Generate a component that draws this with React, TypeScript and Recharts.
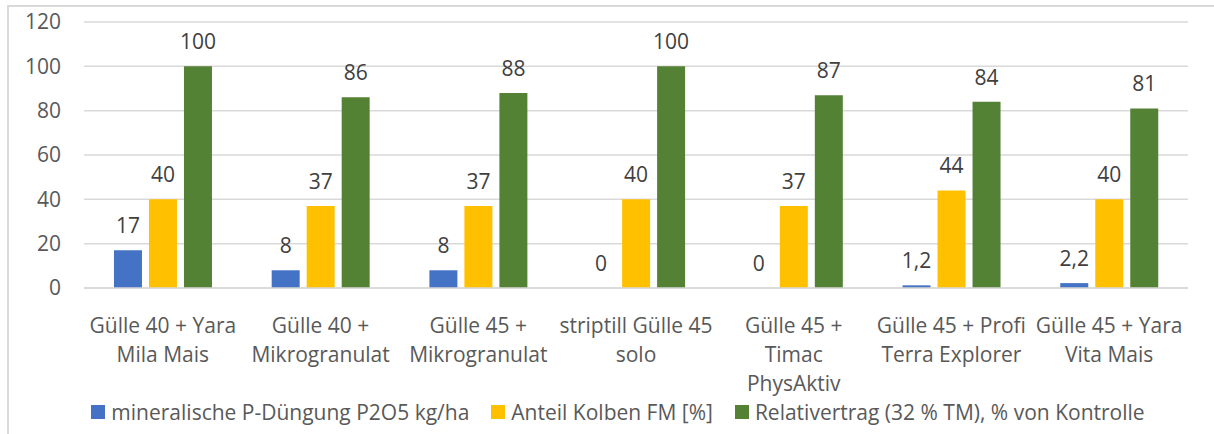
import React from "react";
import { BarChart, Bar, XAxis, YAxis, CartesianGrid, Legend, LabelList } from "recharts";

const categories = [
  "Gülle 40 + Yara Mila Mais",
  "Gülle 40 + Mikrogranulat",
  "Gülle 45 + Mikrogranulat",
  "striptill Gülle 45 solo",
  "Gülle 45 + Timac PhysAktiv",
  "Gülle 45 + Profi Terra Explorer",
  "Gülle 45 + Yara Vita Mais",
];
const categoryLines = [
  ["Gülle 40 + Yara", "Mila Mais"],
  ["Gülle 40 +", "Mikrogranulat"],
  ["Gülle 45 +", "Mikrogranulat"],
  ["striptill Gülle 45", "solo"],
  ["Gülle 45 +", "Timac", "PhysAktiv"],
  ["Gülle 45 + Profi", "Terra Explorer"],
  ["Gülle 45 + Yara", "Vita Mais"],
];
const pDuengung = [17, 8, 8, 0, 0, 1.2, 2.2];
const anteilKolben = [40, 37, 37, 40, 37, 44, 40];
const relativertrag = [100, 86, 88, 100, 87, 84, 81];
const seriesNames = [
  "mineralische P-Düngung P2O5 kg/ha",
  "Anteil Kolben FM [%]",
  "Relativertrag (32 % TM), % von Kontrolle",
];
const yTicks = [0, 20, 40, 60, 80, 100, 120];

const colors = ["#4472C4", "#FFC000", "#548235"];
const FONT = "'Open Sans', sans-serif";
const FS = 21;
const BAR_GAP = 7;

const data = categories.map((c, i) => ({
  name: c,
  idx: i,
  p: pDuengung[i],
  k: anteilKolben[i],
  r: relativertrag[i],
}));

const fmt = (v: any) => String(v).replace(".", ",");

const XTick = (props: any) => {
  const { x, y, payload } = props;
  const lines = categoryLines[payload.index] || [String(payload.value)];
  return (
    <text x={x} y={y} textAnchor="middle" fill="#595959" fontSize={FS} fontFamily={FONT}>
      {lines.map((l: string, i: number) => (
        <tspan key={i} x={x} y={y + 37 + i * 29}>
          {l}
        </tspan>
      ))}
    </text>
  );
};

const labelText = (cx: number, y: number, v: any, key?: string) => (
  <text key={key} x={cx} y={y - 17} textAnchor="middle" fill="#404040" fontSize={FS} fontFamily={FONT}>
    {fmt(v)}
  </text>
);

const BarLabel = (props: any) => {
  const { x, y, width, value } = props;
  if (value === undefined || value === null) return null;
  return labelText(Number(x) + Number(width) / 2, Number(y), value);
};

// Yellow-series label; also places the "0" label of a zero-height blue bar
// (Recharts does not emit zero-height bars, so their labels would be lost).
const KolbenLabel = (props: any) => {
  const { x, y, width, height, value, index } = props;
  const nx = Number(x);
  const nw = Number(width);
  const base = Number(y) + Number(height);
  const out = [labelText(nx + nw / 2, Number(y), value, "k")];
  if (pDuengung[index] === 0) {
    out.push(labelText(nx - BAR_GAP - nw / 2, base, pDuengung[index], "p0"));
  }
  return <g>{out}</g>;
};

const LegendContent = () => (
  <div
    style={{
      display: "flex",
      justifyContent: "center",
      alignItems: "center",
      fontFamily: FONT,
      fontSize: FS,
      color: "#595959",
      height: 28,
      paddingLeft: 40,
    }}
  >
    {seriesNames.map((n, i) => (
      <div key={i} style={{ display: "flex", alignItems: "center", marginRight: i < 2 ? 22 : 0 }}>
        <span style={{ display: "inline-block", width: 14, height: 14, background: colors[i], marginRight: 6 }} />
        <span style={{ whiteSpace: "nowrap" }}>{n}</span>
      </div>
    ))}
  </div>
);

export default function App() {
  return (
    <div style={{ position: "absolute", left: 0, top: 0, width: 1214, height: 434, overflow: "hidden", background: "#fff" }}>
      <div
        style={{
          position: "absolute",
          left: 7,
          top: 5,
          width: 1240,
          height: 460,
          border: "2px solid #d9d9d9",
        }}
      />
      <div style={{ position: "absolute", left: 0, top: 0 }}>
        <BarChart
          width={1214}
          height={434}
          data={data}
          margin={{ top: 22, right: 26, left: 8, bottom: 8 }}
          barCategoryGap="19%"
          barGap={BAR_GAP}
        >
          <CartesianGrid vertical={false} stroke="#d9d9d9" strokeWidth={1.5} />
          <XAxis
            dataKey="name"
            interval={0}
            tickLine={false}
            axisLine={{ stroke: "#d9d9d9", strokeWidth: 1.5 }}
            height={110}
            tick={<XTick />}
          />
          <YAxis
            domain={[0, 120]}
            ticks={yTicks}
            width={76}
            tickLine={false}
            axisLine={false}
            tickSize={0}
            tickMargin={23}
            tick={{ fill: "#595959", fontSize: FS, fontFamily: FONT }}
          />
          <Legend verticalAlign="bottom" content={<LegendContent />} />
          <Bar dataKey="p" name={seriesNames[0]} fill={colors[0]} isAnimationActive={false}>
            <LabelList dataKey="p" content={<BarLabel />} />
          </Bar>
          <Bar dataKey="k" name={seriesNames[1]} fill={colors[1]} isAnimationActive={false}>
            <LabelList dataKey="k" content={<KolbenLabel />} />
          </Bar>
          <Bar dataKey="r" name={seriesNames[2]} fill={colors[2]} isAnimationActive={false}>
            <LabelList dataKey="r" content={<BarLabel />} />
          </Bar>
        </BarChart>
      </div>
    </div>
  );
}
